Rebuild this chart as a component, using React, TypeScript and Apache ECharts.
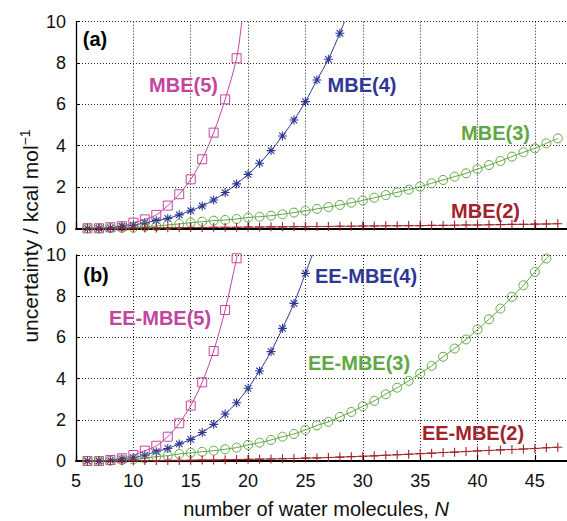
import React, { useEffect, useRef } from "react";
import * as echarts from "echarts";

// ---------- data ----------
// panel (a): conventional MBE
const nA5 = [6, 7, 8, 9, 10, 11, 12, 13, 14, 15, 16, 17, 18, 19];
const mbe5 = [0, 0, 0.05, 0.1, 0.27, 0.43, 0.65, 1.1, 1.65, 2.37, 3.34, 4.63, 6.24, 8.23];
const mbe5End = [19.45, 10];

const nA4 = [6, 7, 8, 9, 10, 11, 12, 13, 14, 15, 16, 17, 18, 19, 20, 21, 22, 23, 24, 25, 26, 27, 28];
const mbe4 = [0, 0, 0.02, 0.1, 0.15, 0.27, 0.37, 0.48, 0.65, 0.85, 1.08, 1.37, 1.73, 2.15, 2.61, 3.15, 3.76, 4.47, 5.24, 6.13, 7.18, 8.18, 9.44];
const mbe4End = [28.4, 10];

const nA3 = [6, 7, 8, 9, 10, 11, 12, 13, 14, 15, 16, 17, 18, 19, 20, 21, 22, 23, 24, 25, 26, 27, 28, 29, 30, 31, 32, 33, 34, 35, 36, 37, 38, 39, 40, 41, 42, 43, 44, 45, 46, 47];
const mbe3 = [0, 0, 0.01, 0.02, 0.03, 0.08, 0.11, 0.16, 0.21, 0.27, 0.32, 0.37, 0.4, 0.45, 0.52, 0.56, 0.61, 0.68, 0.76, 0.85, 0.94, 1.03, 1.13, 1.24, 1.35, 1.48, 1.61, 1.74, 1.87, 2.02, 2.18, 2.34, 2.5, 2.66, 2.87, 3.06, 3.26, 3.47, 3.68, 3.87, 4.11, 4.35];

const nA2 = nA3;
const mbe2 = [0, 0, 0, 0.01, 0.01, 0.02, 0.02, 0.03, 0.03, 0.04, 0.04, 0.05, 0.05, 0.05, 0.06, 0.06, 0.07, 0.07, 0.08, 0.08, 0.09, 0.09, 0.1, 0.1, 0.11, 0.11, 0.12, 0.12, 0.13, 0.13, 0.14, 0.14, 0.15, 0.16, 0.16, 0.17, 0.18, 0.19, 0.19, 0.2, 0.21, 0.22];

// panel (b): EE-MBE
const nB5 = [6, 7, 8, 9, 10, 11, 12, 13, 14, 15, 16, 17, 18, 19];
const eeMbe5 = [0, 0, 0.05, 0.13, 0.29, 0.5, 0.74, 1.18, 1.83, 2.69, 3.82, 5.34, 7.33, 9.84];
const eeMbe5End = [19.05, 10];

const nB4 = [6, 7, 8, 9, 10, 11, 12, 13, 14, 15, 16, 17, 18, 19, 20, 21, 22, 23, 24, 25];
const eeMbe4 = [0, 0, 0.03, 0.1, 0.16, 0.29, 0.45, 0.61, 0.83, 1.05, 1.38, 1.78, 2.28, 2.83, 3.53, 4.37, 5.31, 6.44, 7.65, 9.11];
const eeMbe4End = [25.6, 10];

const nB3 = [6, 7, 8, 9, 10, 11, 12, 13, 14, 15, 16, 17, 18, 19, 20, 21, 22, 23, 24, 25, 26, 27, 28, 29, 30, 31, 32, 33, 34, 35, 36, 37, 38, 39, 40, 41, 42, 43, 44, 45, 46];
const eeMbe3 = [0, 0, 0.02, 0.05, 0.08, 0.13, 0.21, 0.26, 0.34, 0.4, 0.45, 0.5, 0.57, 0.65, 0.78, 0.89, 1.02, 1.18, 1.31, 1.51, 1.73, 1.9, 2.14, 2.38, 2.66, 2.92, 3.24, 3.56, 3.89, 4.25, 4.62, 5.06, 5.46, 5.9, 6.38, 6.88, 7.4, 7.97, 8.53, 9.18, 9.83];
const eeMbe3End = [46.3, 10];

const nB2 = [6, 7, 8, 9, 10, 11, 12, 13, 14, 15, 16, 17, 18, 19, 20, 21, 22, 23, 24, 25, 26, 27, 28, 29, 30, 31, 32, 33, 34, 35, 36, 37, 38, 39, 40, 41, 42, 43, 44, 45, 46, 47];
const eeMbe2 = [0, 0, 0, 0.01, 0.01, 0.02, 0.02, 0.03, 0.03, 0.04, 0.05, 0.05, 0.06, 0.07, 0.08, 0.09, 0.1, 0.11, 0.12, 0.14, 0.15, 0.17, 0.19, 0.21, 0.23, 0.25, 0.28, 0.3, 0.33, 0.36, 0.38, 0.41, 0.43, 0.46, 0.49, 0.51, 0.54, 0.56, 0.58, 0.61, 0.64, 0.67];

const xTicks = [5, 10, 15, 20, 25, 30, 35, 40, 45];
const yTicks = [0, 2, 4, 6, 8, 10];

// ---------- styling ----------
const FONT = "'Liberation Sans', Arial, Helvetica, sans-serif";
const C5 = "#c2459f";
const C4 = "#2d3795";
const C3 = "#5fa843";
const C2 = "#a2232a";

const SYM_SQUARE = "path://M-4,-4L4,-4L4,4L-4,4Z";
const SYM_ASTER = "path://M0,-5L0,5M-5,0L5,0M-3.6,-3.6L3.6,3.6M-3.6,3.6L3.6,-3.6";
const SYM_PLUS = "path://M0,-5L0,5M-5,0L5,0";

const pairs = (xs: number[], ys: number[]) => xs.map((x, i) => [x, ys[i]]);

function lineSeries(grid: number, xs: number[], ys: number[], color: string, end?: number[]) {
  const d = pairs(xs, ys);
  if (end) d.push(end);
  return {
    type: "line",
    xAxisIndex: grid,
    yAxisIndex: grid,
    data: d,
    showSymbol: false,
    smooth: 0.3,
    lineStyle: { color, width: 1 },
    z: 2,
  };
}

function markSeries(grid: number, xs: number[], ys: number[], color: string, symbol: string, size: number, bw: number) {
  return {
    type: "scatter",
    xAxisIndex: grid,
    yAxisIndex: grid,
    data: pairs(xs, ys),
    symbol,
    symbolSize: size,
    itemStyle: { color: "rgba(0,0,0,0)", borderColor: color, borderWidth: bw, opacity: 1 },
    z: 3,
  };
}

function xAxis(grid: number, showLabels: boolean) {
  return {
    type: "value",
    gridIndex: grid,
    min: 5,
    max: 47.8,
    interval: 5,
    axisLine: { show: true, onZero: false, lineStyle: { color: "#000", width: 2 } },
    axisTick: { show: true, inside: true, length: 6, lineStyle: { color: "#000", width: 1.2 } },
    axisLabel: {
      show: showLabels,
      showMaxLabel: false,
      color: "#111",
      fontSize: 18,
      fontFamily: FONT,
      margin: 11,
      formatter: (v: number) => (xTicks.includes(v) ? String(v) : ""),
    },
    splitLine: { show: true, lineStyle: { color: "#222", width: 1, type: [1, 2] } },
  };
}

function yAxis(grid: number) {
  return {
    type: "value",
    gridIndex: grid,
    min: 0,
    max: 10,
    interval: 2,
    axisLine: { show: true, lineStyle: { color: "#000", width: 1.3 } },
    axisTick: { show: true, inside: true, length: 4, lineStyle: { color: "#000" } },
    axisLabel: {
      color: "#111",
      fontSize: 18,
      fontFamily: FONT,
      margin: 10,
      formatter: (v: number) => (yTicks.includes(v) ? String(v) : ""),
    },
    splitLine: { show: true, lineStyle: { color: "#222", width: 1, type: [1, 2] } },
  };
}

function label(text: string, x: number, y: number, color: string) {
  return {
    type: "text",
    x,
    y,
    z: 10,
    style: {
      text,
      fill: color,
      font: `bold 20px ${FONT}`,
      align: "center",
      verticalAlign: "middle",
    },
  };
}

export default function App() {
  const ref = useRef<HTMLDivElement>(null);

  useEffect(() => {
    document.body.style.margin = "0";
    if (!ref.current) return;
    const chart = echarts.init(ref.current, null, { renderer: "svg" });
    chart.setOption({
      animation: false,
      backgroundColor: "#fff",
      grid: [
        { left: 76, right: 0, top: 21.7, height: 206.6 },
        { left: 76, right: 0, top: 255, height: 206 },
      ],
      xAxis: [xAxis(0, false), xAxis(1, true)],
      yAxis: [yAxis(0), yAxis(1)],
      series: [
        lineSeries(0, nA5, mbe5, C5, mbe5End),
        lineSeries(0, nA4, mbe4, C4, mbe4End),
        lineSeries(0, nA3, mbe3, C3),
        lineSeries(0, nA2, mbe2, C2),
        markSeries(0, nA5, mbe5, C5, SYM_SQUARE, 9, 1),
        markSeries(0, nA4, mbe4, C4, SYM_ASTER, 9, 1.1),
        markSeries(0, nA3, mbe3, C3, "circle", 9, 1),
        markSeries(0, nA2, mbe2, C2, SYM_PLUS, 9, 1.1),
        lineSeries(1, nB5, eeMbe5, C5, eeMbe5End),
        lineSeries(1, nB4, eeMbe4, C4, eeMbe4End),
        lineSeries(1, nB3, eeMbe3, C3, eeMbe3End),
        lineSeries(1, nB2, eeMbe2, C2),
        markSeries(1, nB5, eeMbe5, C5, SYM_SQUARE, 9, 1),
        markSeries(1, nB4, eeMbe4, C4, SYM_ASTER, 9, 1.1),
        markSeries(1, nB3, eeMbe3, C3, "circle", 9, 1),
        markSeries(1, nB2, eeMbe2, C2, SYM_PLUS, 9, 1.1),
      ],
      graphic: [
        label("(a)", 95, 38.5, "#000"),
        label("MBE(5)", 183.5, 85, C5),
        label("MBE(4)", 362, 85, C4),
        label("MBE(3)", 495.5, 132.5, C3),
        label("MBE(2)", 485.5, 211, C2),
        label("(b)", 96, 274.5, "#000"),
        label("EE-MBE(5)", 160, 318, C5),
        label("EE-MBE(4)", 366, 276, C4),
        label("EE-MBE(3)", 359, 362.5, C3),
        label("EE-MBE(2)", 473, 433, C2),
        {
          type: "text",
          x: 30,
          y: 236,
          rotation: Math.PI / 2,
          style: {
            text: "uncertainty / kcal mol{sup|−1}",
            fill: "#111",
            font: `21px ${FONT}`,
            align: "center",
            verticalAlign: "middle",
            lineHeight: 24,
            rich: {
              sup: { fontSize: 14, fontFamily: FONT, fill: "#111", verticalAlign: "top", lineHeight: 24 },
            },
          },
        },
        {
          type: "text",
          x: 316,
          y: 509,
          style: {
            text: "number of water molecules, {it|N}",
            fill: "#111",
            font: `20px ${FONT}`,
            align: "center",
            verticalAlign: "middle",
            rich: {
              it: { fontSize: 20, fontFamily: FONT, fontStyle: "italic", fill: "#111" },
            },
          },
        },
      ],
    });
    return () => chart.dispose();
  }, []);

  return <div ref={ref} style={{ width: 567, height: 521 }} />;
}
